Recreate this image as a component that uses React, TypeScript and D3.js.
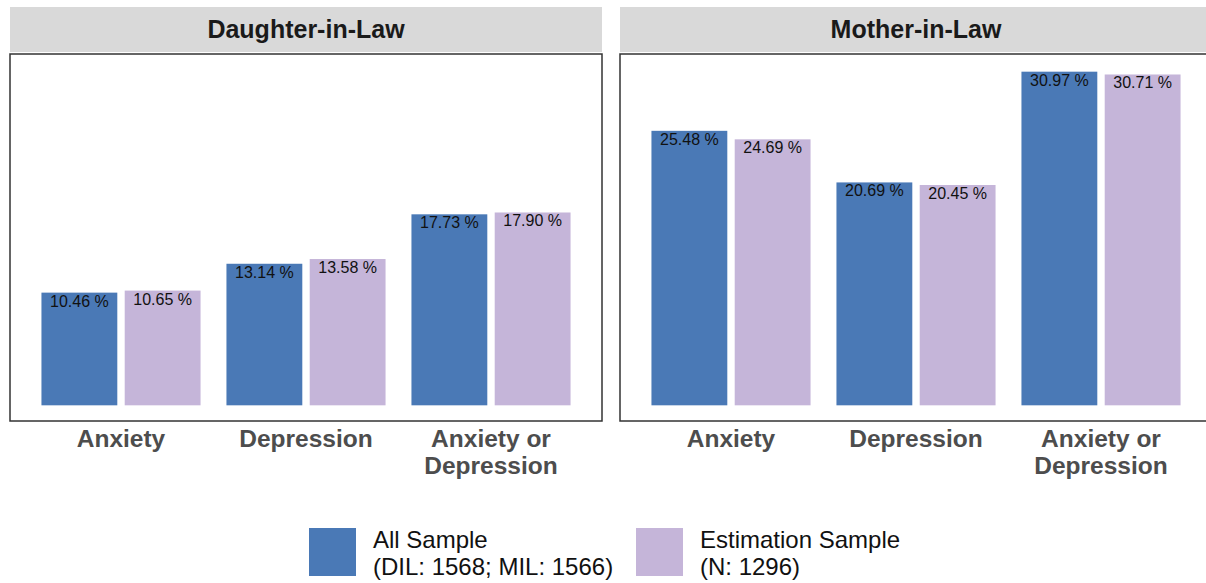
import React from 'react';
import * as d3 from 'd3';

// chart data
const panels = ['Daughter-in-Law', 'Mother-in-Law'];
const categories = [['Anxiety'], ['Depression'], ['Anxiety or', 'Depression']];
const seriesNames = ['All Sample', 'Estimation Sample'];
const legendLines = [['All Sample', '(DIL: 1568; MIL: 1566)'], ['Estimation Sample', '(N: 1296)']];
const allSample = [[10.46, 13.14, 17.73], [25.48, 20.69, 30.97]];
const estimationSample = [[10.65, 13.58, 17.9], [24.69, 20.45, 30.71]];
const colors = ['#4a79b6', '#c5b5d9'];

const width = 1206;
const height = 583;
const font = '"Liberation Sans", Arial, Helvetica, sans-serif';

const App = () => {
  const panelTop = 54;
  const panelBottom = 421;
  const panelW = 592;
  const panelX = [10, 620];

  const maxV = d3.max([...allSample.flat(), ...estimationSample.flat()]) as number;
  const pad = maxV * 0.05;
  const y = d3.scaleLinear().domain([-pad, maxV + pad]).range([panelBottom + 1, panelTop + 1]);

  const seriesData = [allSample, estimationSample];

  return (
    <svg width={width} height={height} style={{ position: 'absolute', left: 0, top: 0 }}>
      <rect width={width} height={height} fill="#fff" />
      {panels.map((p, pi) => {
        const x0 = panelX[pi];
        const x = d3.scaleLinear().domain([0.4, categories.length + 0.6]).range([x0, x0 + panelW]);
        const slot = x(0.45) - x(0);
        const barW = x(0.41) - x(0);
        return (
          <g key={p}>
            <rect x={x0} y={7} width={panelW} height={45} fill="#d9d9d9" />
            <text x={x0 + panelW / 2} y={38} textAnchor="middle" fontFamily={font} fontWeight="bold"
              fontSize={25} fill="#1a1a1a">{p}</text>
            {categories.map((c, ci) => (
              <g key={ci}>
                {seriesData.map((s, si) => {
                  const v = s[pi][ci];
                  const cx = x(ci + 1) + (si - 0.5) * slot;
                  return (
                    <g key={si}>
                      <rect x={cx - barW / 2} y={y(v)} width={barW} height={y(0) - y(v)} fill={colors[si]} />
                      <text x={cx} y={y(v) + 14} textAnchor="middle" fontFamily={font} fontSize={16}
                        fill="#111">{v.toFixed(2) + ' %'}</text>
                    </g>
                  );
                })}
                <text x={x(ci + 1)} y={447} textAnchor="middle" fontFamily={font} fontWeight="bold"
                  fontSize={24.5} fill="#4d4d4d">
                  {c.map((l, li) => (
                    <tspan key={li} x={x(ci + 1)} dy={li === 0 ? 0 : 26.5}>{l}</tspan>
                  ))}
                </text>
              </g>
            ))}
            <rect x={x0} y={panelTop} width={panelW} height={panelBottom - panelTop} fill="none"
              stroke="#333" strokeWidth={1.5} />
          </g>
        );
      })}
      {seriesNames.map((n, i) => {
        const lx = [309, 636][i];
        return (
          <g key={n}>
            <rect x={lx} y={528} width={47} height={48} fill={colors[i]} />
            <text x={lx + 64} y={548} fontFamily={font} fontSize={24} fill="#111">
              {legendLines[i].map((l, li) => (
                <tspan key={li} x={lx + 64} dy={li === 0 ? 0 : 26.5}>{l}</tspan>
              ))}
            </text>
          </g>
        );
      })}
    </svg>
  );
};

export default App;
